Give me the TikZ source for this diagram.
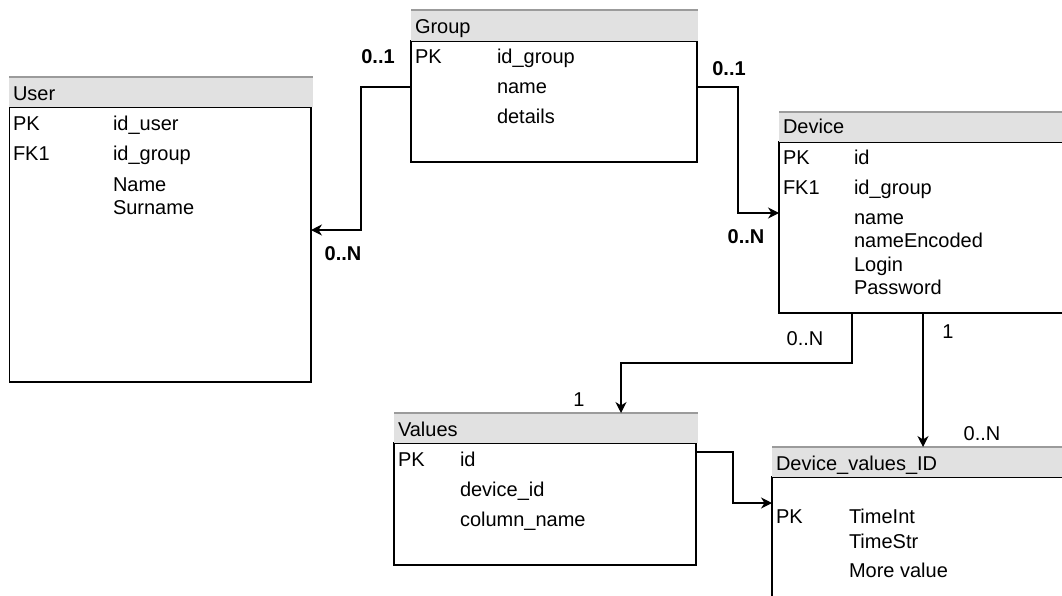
\documentclass[tikz,border=0pt]{standalone}
\usepackage{fontspec}
\setmainfont{Liberation Sans}
\usetikzlibrary{arrows.meta}
\definecolor{hdrfill}{RGB}{225,225,225}
\definecolor{hdrline}{RGB}{155,155,155}
\begin{document}
\begin{tikzpicture}[x=1pt,y=-1pt,
  font=\fontsize{20}{24}\selectfont,
  tablebody/.style={draw=black,line width=1.3pt,fill=none,inner sep=0pt,outer sep=0pt,anchor=north west},
  tablehead/.style={fill=hdrfill,draw=none,inner sep=0pt,outer sep=0pt,anchor=north west},
  headline/.style={draw=hdrline,line width=1.3pt},
  txt/.style={inner sep=0pt,outer sep=0pt,anchor=base west},
  card/.style={inner sep=0pt,outer sep=0pt,anchor=base,font=\fontsize{20}{24}\selectfont\bfseries},
  cardn/.style={inner sep=0pt,outer sep=0pt,anchor=base},
  link/.style={draw=black,line width=1.3pt,-{Stealth[length=11pt,width=11pt,inset=3.5pt]}}
]
\clip (0,0) rectangle (1062,595);
\fill[white] (0,0) rectangle (1062,595);

% ---- User ----
\node[tablebody,minimum width=301.5pt,minimum height=275pt] (user) at (9.5,107) {};
\node[tablehead,minimum width=304pt,minimum height=30pt] (user-h) at (9,77) {};
\draw[headline] (user-h.north west) -- (user-h.north east);
\node[txt] (user-t) at (13,100) {User};
\node[txt] (user-k1) at (13,130) {PK};
\node[txt] (user-f1) at (113,130) {id\_user};
\node[txt] (user-k2) at (13,160) {FK1};
\node[txt] (user-f2) at (113,160) {id\_group};
\node[txt] (user-f3) at (113,191) {Name};
\node[txt] (user-f4) at (113,214) {Surname};

% ---- Group ----
\node[tablebody,minimum width=286pt,minimum height=121pt] (group) at (411,41) {};
\node[tablehead,minimum width=287pt,minimum height=31pt] (group-h) at (411,10) {};
\draw[headline] (group-h.north west) -- (group-h.north east);
\node[txt] (group-t) at (415,33) {Group};
\node[txt] (group-k1) at (415,63) {PK};
\node[txt] (group-f1) at (497,63) {id\_group};
\node[txt] (group-f2) at (497,93) {name};
\node[txt] (group-f3) at (497,123) {details};

% ---- Device ----
\node[tablebody,minimum width=300pt,minimum height=171pt] (device) at (779,142) {};
\node[tablehead,minimum width=300pt,minimum height=30pt] (device-h) at (779,112) {};
\draw[headline] (device-h.north west) -- (device-h.north east);
\node[txt] (device-t) at (783,133) {Device};
\node[txt] (device-k1) at (783,164) {PK};
\node[txt] (device-f1) at (854,164) {id};
\node[txt] (device-k2) at (783,194) {FK1};
\node[txt] (device-f2) at (854,194) {id\_group};
\node[txt] (device-f3) at (854,224) {name};
\node[txt] (device-f4) at (854,247) {nameEncoded};
\node[txt] (device-f5) at (854,271) {Login};
\node[txt] (device-f6) at (854,294) {Password};

% ---- Values ----
\node[tablebody,minimum width=302pt,minimum height=122pt] (values) at (394,443) {};
\node[tablehead,minimum width=304pt,minimum height=30pt] (values-h) at (394,413) {};
\draw[headline] (values-h.north west) -- (values-h.north east);
\node[txt] (values-t) at (398,436) {Values};
\node[txt] (values-k1) at (398,466) {PK};
\node[txt] (values-f1) at (460,466) {id};
\node[txt] (values-f2) at (460,496) {device\_id};
\node[txt] (values-f3) at (460,526) {column\_name};

% ---- Device_values_ID ----
\node[tablebody,minimum width=300pt,minimum height=140pt] (dvi) at (772,477) {};
\node[tablehead,minimum width=300pt,minimum height=30pt] (dvi-h) at (772,447) {};
\draw[headline] (dvi-h.north west) -- (dvi-h.north east);
\node[txt] (dvi-t) at (776,470) {Device\_values\_ID};
\node[txt] (dvi-k1) at (776,523) {PK};
\node[txt] (dvi-f1) at (849,523) {TimeInt};
\node[txt] (dvi-f2) at (849,548) {TimeStr};
\node[txt] (dvi-f3) at (849,577) {More value};

% ---- Relations ----
\draw[link] ([yshift=-46pt]group.north west) -- ++(-50,0) |- ([yshift=-123pt]user.north east);
\draw[link] ([yshift=-46pt]group.north east) -- ++(41,0) |- ([yshift=-71pt]device.north west);
\draw[link] ([xshift=73pt]device.south west) -- ++(0,50) -| ([xshift=227pt]values-h.north west);
\draw[link] ([xshift=144pt]device.south west) -- ([xshift=151pt]dvi-h.north west);
\draw[link] ([yshift=-9pt]values.north east) -- ++(37,0) |- ([yshift=-26pt]dvi.north west);

% ---- Cardinalities ----
\node[card] (c1) at (378,63) {0..1};
\node[card] (c2) at (343,260) {0..N};
\node[card] (c3) at (729,75) {0..1};
\node[card] (c4) at (746,243) {0..N};
\node[cardn] (c5) at (805,345) {0..N};
\node[cardn] (c6) at (579,406) {1};
\node[cardn] (c7) at (948,338) {1};
\node[cardn] (c8) at (982,440) {0..N};
\end{tikzpicture}
\end{document}
